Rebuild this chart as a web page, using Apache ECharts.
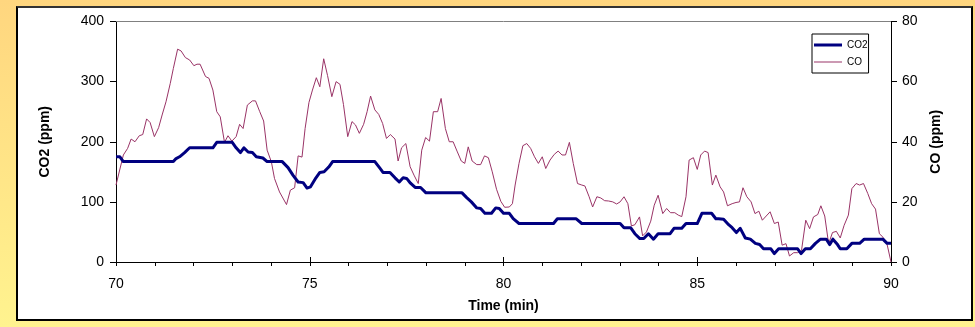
<!DOCTYPE html>
<html>
<head>
<meta charset="utf-8">
<script src="https://cdn.jsdelivr.net/npm/echarts@6/dist/echarts.min.js"></script>
<style>
  html, body { margin: 0; padding: 0; }
  #page {
    position: relative;
    width: 975px;
    height: 327px;
    background: linear-gradient(to bottom, #ffd67f, #fff38f);
    overflow: hidden;
  }
  #panel {
    position: absolute;
    left: 16px;
    top: 6px;
    width: 957px;
    height: 315px;
    box-sizing: border-box;
    background: #fff;
    border: 2px solid #000;
    border-top-color: #333;
  }
  #chart {
    position: absolute;
    left: 0;
    top: 0;
    width: 975px;
    height: 327px;
  }
</style>
</head>
<body>
<div id="page">
  <div id="panel"></div>
  <div id="chart"></div>
</div>
<script>
// CO2 (ppm), left axis - step-like readings
const co2Time = [70.00, 70.10, 70.19, 71.48, 71.55, 71.64, 71.77, 71.90, 72.50, 72.60, 73.00, 73.10, 73.21, 73.30,
  73.41, 73.52, 73.62, 73.79, 73.90, 74.29, 74.44, 74.57, 74.70, 74.83, 74.93, 75.02, 75.16, 75.26, 75.37, 75.49,
  75.59, 76.68, 76.81, 76.89, 77.07, 77.20, 77.31, 77.41, 77.50, 77.60, 77.72, 77.86, 78.00, 78.93, 79.05, 79.17,
  79.31, 79.41, 79.52, 79.69, 79.80, 79.89, 80.00, 80.15, 80.25, 80.40, 81.29, 81.39, 81.87, 82.02, 83.01, 83.11,
  83.28, 83.39, 83.52, 83.62, 83.74, 83.87, 83.99, 84.30, 84.40, 84.60, 84.71, 85.00, 85.12, 85.37, 85.48, 85.55,
  85.68, 85.81, 85.90, 86.01, 86.11, 86.24, 86.37, 86.50, 86.61, 86.71, 86.90, 86.99, 87.10, 87.59, 87.68, 87.79,
  87.92, 88.05, 88.18, 88.33, 88.42, 88.50, 88.62, 88.69, 88.86, 88.99, 89.19, 89.31, 89.79, 89.90, 90.00];
const co2Ppm = [175, 175, 167, 167, 172, 175, 182, 190, 190, 199, 199, 190, 182, 190,
  183, 182, 175, 173, 167, 167, 157, 144, 133, 132, 123, 125, 140, 149, 150, 158,
  167, 167, 156, 149, 149, 140, 133, 140, 139, 131, 124, 124, 115, 115, 107, 100,
  90, 89, 81, 81, 90, 89, 81, 81, 72, 64, 64, 72, 72, 64, 64, 57,
  57, 47, 39, 39, 47, 38, 47, 47, 56, 56, 64, 64, 81, 81, 72, 72,
  71, 62, 57, 49, 56, 40, 38, 31, 29, 22, 22, 14, 22, 22, 14, 22,
  22, 31, 38, 38, 29, 38, 29, 22, 22, 31, 31, 38, 38, 31, 31];

// CO (ppm), right axis
const coTime = [70.00, 70.19, 70.30, 70.39, 70.49, 70.60, 70.69, 70.79, 70.88, 70.99, 71.10, 71.19, 71.29, 71.40,
  71.48, 71.59, 71.68, 71.79, 71.90, 72.01, 72.09, 72.17, 72.31, 72.40, 72.50, 72.60, 72.69, 72.80, 72.89, 72.99,
  73.10, 73.19, 73.28, 73.39, 73.52, 73.60, 73.71, 73.81, 73.90, 74.01, 74.09, 74.22, 74.40, 74.50, 74.61, 74.70,
  74.80, 74.88, 74.98, 75.07, 75.17, 75.26, 75.36, 75.46, 75.57, 75.68, 75.78, 75.87, 75.98, 76.09, 76.18, 76.28,
  76.39, 76.48, 76.57, 76.68, 76.78, 76.88, 76.98, 77.08, 77.20, 77.28, 77.37, 77.48, 77.59, 77.69, 77.80, 77.89,
  77.99, 78.09, 78.19, 78.30, 78.39, 78.50, 78.60, 78.70, 78.80, 78.91, 79.00, 79.09, 79.19, 79.31, 79.41, 79.51,
  79.61, 79.71, 79.82, 79.93, 80.03, 80.15, 80.23, 80.30, 80.40, 80.50, 80.60, 80.70, 80.80, 80.90, 81.00, 81.09,
  81.20, 81.31, 81.41, 81.51, 81.60, 81.70, 81.80, 81.91, 82.02, 82.10, 82.21, 82.30, 82.41, 82.51, 82.61, 82.71,
  82.82, 82.92, 83.01, 83.11, 83.21, 83.30, 83.39, 83.51, 83.59, 83.69, 83.80, 83.89, 83.99, 84.11, 84.21, 84.31,
  84.42, 84.51, 84.60, 84.71, 84.79, 84.90, 85.00, 85.09, 85.19, 85.28, 85.39, 85.48, 85.59, 85.68, 85.78, 85.90,
  86.00, 86.09, 86.18, 86.28, 86.39, 86.49, 86.59, 86.68, 86.78, 86.88, 86.99, 87.09, 87.19, 87.29, 87.38, 87.49,
  87.59, 87.69, 87.80, 87.90, 88.00, 88.11, 88.19, 88.29, 88.39, 88.49, 88.59, 88.69, 88.79, 88.90, 88.99, 89.10,
  89.19, 89.29, 89.40, 89.50, 89.60, 89.70, 89.79, 89.90, 90.00];
const coPpm = [25.6, 35.6, 37.8, 40.9, 40.0, 42.0, 42.4, 47.6, 46.4, 41.7, 44.7, 48.9, 53.3, 59.4,
  64.4, 70.8, 70.2, 68.0, 67.2, 65.3, 65.8, 65.8, 61.7, 61.1, 57.2, 50.0, 48.3, 39.8, 42.0, 40.2,
  41.7, 45.8, 44.4, 52.2, 53.6, 53.6, 50.0, 46.9, 37.2, 33.3, 27.8, 23.3, 19.1, 23.9, 24.7, 35.3,
  34.9, 44.4, 53.1, 57.2, 61.3, 58.3, 67.6, 62.0, 55.0, 60.0, 59.1, 52.4, 41.7, 46.7, 45.6, 42.8,
  45.8, 50.0, 55.2, 50.6, 49.1, 46.1, 41.1, 42.4, 40.9, 33.6, 38.0, 39.4, 31.7, 28.9, 26.1, 37.2,
  41.4, 40.2, 50.0, 50.0, 54.4, 44.4, 40.0, 40.0, 36.9, 33.6, 32.8, 38.3, 33.6, 32.4, 32.4, 35.3,
  34.7, 30.0, 24.2, 20.2, 18.2, 18.3, 19.4, 25.6, 32.8, 38.7, 39.4, 37.8, 35.0, 32.8, 35.0, 31.1,
  33.9, 35.8, 36.9, 35.6, 35.6, 39.8, 32.8, 26.1, 25.6, 25.3, 21.7, 18.3, 21.7, 21.3, 20.4, 20.3,
  20.0, 19.3, 20.0, 21.7, 19.4, 12.0, 12.4, 15.0, 8.7, 10.0, 13.6, 18.9, 22.2, 16.1, 17.8, 16.4,
  16.4, 15.6, 15.1, 21.7, 33.9, 34.7, 30.8, 35.6, 36.9, 36.4, 25.6, 28.9, 25.0, 23.3, 18.7, 19.4,
  19.8, 20.0, 24.7, 21.7, 20.0, 16.1, 16.9, 13.9, 15.3, 16.7, 12.8, 13.3, 5.6, 6.1, 2.0, 3.1,
  3.1, 3.8, 13.9, 11.1, 15.0, 15.8, 18.7, 15.3, 6.1, 9.8, 10.2, 8.0, 12.2, 15.6, 24.4, 26.1,
  25.6, 26.1, 22.8, 19.4, 17.6, 9.4, 8.3, 5.8, 0];

const xLabels = [70, 75, 80, 85, 90];

const pairs = (xs, ys) => xs.map((x, i) => [x, ys[i]]);

const chart = echarts.init(document.getElementById('chart'), null, { renderer: 'canvas' });

const font = 'Arial, "Liberation Sans", sans-serif';
const black = '#000';
const co2Color = '#000080';
const coColor = '#993366';

chart.setOption({
  animation: false,
  backgroundColor: 'transparent',
  textStyle: { fontFamily: font, color: black },
  grid: { left: 116, right: 84, top: 21.5, bottom: 65 },
  legend: {
    left: 812,
    top: 34,
    orient: 'vertical',
    itemWidth: 28,
    itemHeight: 14,
    itemGap: 7,
    padding: [6, 1, 6, 2],
    backgroundColor: '#fff',
    borderColor: black,
    borderWidth: 1,
    borderRadius: 0,
    textStyle: { fontFamily: font, fontSize: 10, color: black },
    data: [
      { name: 'CO2', icon: 'path://M0 0H28V3H0Z', itemStyle: { color: co2Color } },
      { name: 'CO', icon: 'path://M0 0H28V1H0Z', itemStyle: { color: coColor } }
    ]
  },
  xAxis: [
    {
      type: 'value',
      min: 70,
      max: 90,
      interval: 1,
      position: 'bottom',
      axisLine: { lineStyle: { color: black, width: 1 } },
      axisTick: { length: 4, lineStyle: { color: black } },
      axisLabel: {
        fontSize: 14,
        color: black,
        margin: 15,
        formatter: v => (xLabels.includes(v) ? String(v) : '')
      },
      splitLine: { show: false },
      name: 'Time (min)',
      nameLocation: 'middle',
      nameGap: 37,
      nameTextStyle: { fontSize: 14, fontWeight: 'bold', color: black }
    },
    {
      type: 'value',
      min: 70,
      max: 90,
      interval: 5,
      position: 'bottom',
      axisLine: { show: false },
      axisTick: { inside: true, length: 5, lineStyle: { color: black } },
      axisLabel: { show: false },
      splitLine: { show: false }
    },
    {
      type: 'value',
      min: 70,
      max: 90,
      position: 'top',
      axisLine: { lineStyle: { color: '#808080', width: 1 } },
      axisTick: { show: false },
      axisLabel: { show: false },
      splitLine: { show: false }
    }
  ],
  yAxis: [
    {
      type: 'value',
      min: 0,
      max: 400,
      interval: 100,
      position: 'left',
      axisLine: { show: true, lineStyle: { color: black } },
      axisTick: { show: true, length: 6, lineStyle: { color: black } },
      axisLabel: { fontSize: 14, color: black, margin: 12 },
      splitLine: { show: false },
      name: 'CO2 (ppm)',
      nameLocation: 'middle',
      nameGap: 64,
      nameTextStyle: { fontSize: 14, fontWeight: 'bold', color: black }
    },
    {
      type: 'value',
      min: 0,
      max: 80,
      interval: 20,
      position: 'right',
      axisLine: { show: true, lineStyle: { color: black } },
      axisTick: { show: true, length: 6, lineStyle: { color: black } },
      axisLabel: { fontSize: 14, color: black, margin: 11 },
      splitLine: { show: false },
      name: 'CO (ppm)',
      nameLocation: 'middle',
      nameGap: 38,
      nameRotate: 90,
      nameTextStyle: { fontSize: 14, fontWeight: 'bold', color: black }
    }
  ],
  series: [
    {
      name: 'CO2',
      type: 'line',
      xAxisIndex: 0,
      yAxisIndex: 0,
      symbol: 'none',
      data: pairs(co2Time, co2Ppm),
      lineStyle: { color: co2Color, width: 3, join: 'round' },
      itemStyle: { color: co2Color },
      z: 3
    },
    {
      name: 'CO',
      type: 'line',
      xAxisIndex: 0,
      yAxisIndex: 1,
      symbol: 'none',
      data: pairs(coTime, coPpm),
      lineStyle: { color: coColor, width: 1 },
      itemStyle: { color: coColor },
      z: 2
    }
  ]
});
</script>
</body>
</html>
